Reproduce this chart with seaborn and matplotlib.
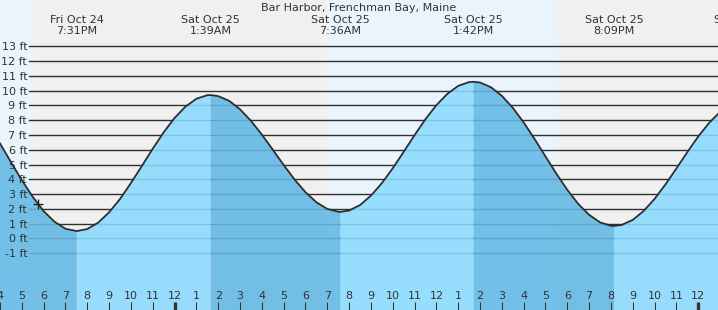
import numpy as np
import pandas as pd
import matplotlib
matplotlib.use("Agg")
import matplotlib.pyplot as plt
import matplotlib.transforms as mtransforms
import seaborn as sns

# ---------------- data ----------------
title = "Bar Harbor, Frenchman Bay, Maine"

# hours relative to midnight that begins Sat Oct 25
tide_hours = [-8.0, -7.5, -7.0, -6.5, -6.0, -5.5, -5.0, -4.483, -4.0, -3.5,
              -3.0, -2.5, -2.0, -1.5, -1.0, -0.5, 0.0, 0.5, 1.0, 1.5,
              1.65, 2.0, 2.5, 3.0, 3.5, 4.0, 4.5, 5.0, 5.5, 6.0,
              6.5, 7.0, 7.5, 7.6, 8.0, 8.5, 9.0, 9.5, 10.0, 10.5,
              11.0, 11.5, 12.0, 12.5, 13.0, 13.5, 13.7, 14.0, 14.5, 15.0,
              15.5, 16.0, 16.5, 17.0, 17.5, 18.0, 18.5, 19.0, 19.5, 20.0,
              20.15, 20.5, 21.0, 21.5, 22.0, 22.5, 23.0, 23.5, 24.0, 24.5,
              25.0]
tide_feet = [6.43, 5.17, 3.94, 2.82, 1.85, 1.13, 0.66, 0.50, 0.64, 1.07,
             1.77, 2.67, 3.75, 4.90, 6.07, 7.18, 8.15, 8.92, 9.45, 9.69,
             9.70, 9.63, 9.31, 8.74, 7.96, 7.03, 6.01, 4.97, 3.99, 3.13,
             2.45, 2.00, 1.81, 1.80, 1.89, 2.26, 2.90, 3.74, 4.75, 5.86,
             6.99, 8.07, 9.02, 9.78, 10.32, 10.58, 10.60, 10.55, 10.23, 9.65,
             8.84, 7.85, 6.73, 5.55, 4.38, 3.29, 2.34, 1.60, 1.09, 0.86,
             0.85, 0.92, 1.26, 1.86, 2.68, 3.66, 4.74, 5.84, 6.90, 7.82,
             8.56]

extreme_hours = [-4.483, 1.65, 7.6, 13.7, 20.15, 26.15]
extreme_labels = ["Fri Oct 24\n7:31PM", "Sat Oct 25\n1:39AM", "Sat Oct 25\n7:36AM",
                  "Sat Oct 25\n1:42PM", "Sat Oct 25\n8:09PM", "Sun Oct 26\n2:09AM"]

night_start = [-6.43, 17.52]
night_end = [6.995, 30.0]

now_hour = [-6.26]
now_feet = [2.31]

feet_ticks = list(range(-1, 14))
feet_labels = [f"{v} ft" for v in feet_ticks]

hour_ticks = list(range(-8, 25))
hour_labels = ["4", "5", "6", "7", "8", "9", "10", "11", "12",
               "1", "2", "3", "4", "5", "6", "7", "8", "9", "10", "11", "12",
               "1", "2", "3", "4", "5", "6", "7", "8", "9", "10", "11", "12"]
midnight_ticks = [0, 24]

# ---------------- styling ----------------
W, H = 718, 310
DPI = 100
TXT = "#333333"
DAY_BG = "#eaf4fd"
NIGHT_BG = "#f0f0f0"
WATER_RISE = "#8bdaff"
WATER_FALL = "#62b8e4"
WATER_ALPHA = 0.88
GRID = "#303030"

plt.rcParams["font.family"] = ["DejaVu Sans"]
plt.rcParams["font.size"] = 8

fig = plt.figure(figsize=(W / DPI, H / DPI), dpi=DPI)
ax = fig.add_axes([0, 0, 1, 1])

x_left, x_right = -7.985, 24.906
y_bottom, y_top = -4.836, 16.13
ax.set_xlim(x_left, x_right)
ax.set_ylim(y_bottom, y_top)
ax.set_facecolor(DAY_BG)
for s in ax.spines.values():
    s.set_visible(False)

# night shading
for a, b in zip(night_start, night_end):
    ax.axvspan(a, b, color=NIGHT_BG, lw=0, zorder=0)

# grid lines
for v in feet_ticks:
    ax.axhline(v, xmin=29.5 / W, xmax=1, color=GRID, lw=1.0, zorder=1)

df = pd.DataFrame({"hour": tide_hours, "feet": tide_feet})
h = df["feet"].to_numpy()
n = len(h)
falling = np.array([(i < n - 1 and h[i + 1] < h[i]) or (i > 0 and h[i - 1] > h[i]) for i in range(n)])
rising = np.array([(i < n - 1 and h[i + 1] > h[i]) or (i > 0 and h[i - 1] < h[i]) for i in range(n)])

ax.fill_between(df["hour"], df["feet"], y_bottom, where=rising, color=WATER_RISE,
                alpha=WATER_ALPHA, lw=0, zorder=2)
ax.fill_between(df["hour"], df["feet"], y_bottom, where=falling, color=WATER_FALL,
                alpha=WATER_ALPHA, lw=0, zorder=2)

sns.lineplot(data=df, x="hour", y="feet", ax=ax, color="#2e2e2e", lw=1.3, zorder=3,
             sort=False)
sns.scatterplot(x=now_hour, y=now_feet, ax=ax, marker="+", s=60, color="#222222",
                linewidth=1.0, zorder=4)

# axes ticks
ax.set_axisbelow(False)
ax.set_yticks(feet_ticks, labels=feet_labels)
ax.tick_params(axis="y", direction="in", length=0, pad=-19.6, labelcolor=TXT,
               labelsize=8)
ax.set_xticks(hour_ticks, labels=hour_labels)
ax.tick_params(axis="x", direction="in", length=5.8, width=0.75, color=TXT,
               pad=-13.8, labelcolor=TXT, labelsize=8)
for tk, v in zip(ax.xaxis.get_major_ticks(), hour_ticks):
    if v in midnight_ticks:
        tk.tick1line.set_markeredgewidth(2.4)
ax.set_xlabel("")
ax.set_ylabel("")

# header labels
trans = mtransforms.blended_transform_factory(ax.transData, ax.transAxes)
for t, lab in zip(extreme_hours, extreme_labels):
    ax.text(t, 1 - 25.5 / H, lab, transform=trans, ha="center", va="center",
            color=TXT, fontsize=8, linespacing=1.05, zorder=5, clip_on=False)

fig.text(0.5, 1 - 8 / H, title, ha="center", va="center", color=TXT, fontsize=8)

fig.savefig("out.png", dpi=DPI)
